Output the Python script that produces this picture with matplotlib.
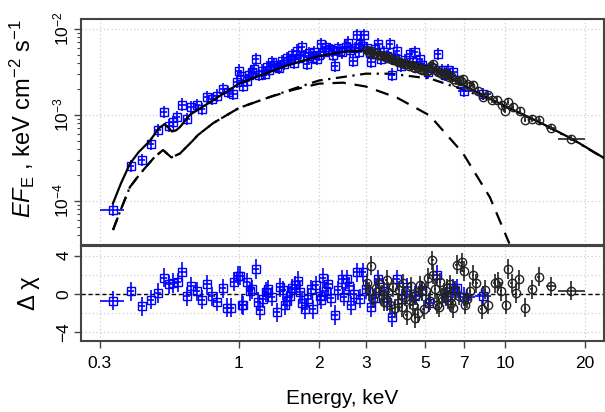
import numpy as np
import matplotlib
matplotlib.use("Agg")
import matplotlib.pyplot as plt
from matplotlib.ticker import LogLocator, FixedLocator, NullFormatter, NullLocator

plt.rcParams['font.family'] = ['Liberation Sans', 'DejaVu Sans']
plt.rcParams['mathtext.fontset'] = 'custom'
plt.rcParams['mathtext.rm'] = 'Liberation Sans'
plt.rcParams['mathtext.it'] = 'Liberation Sans:italic'

# ---- model curves (keV, keV cm^-2 s^-1) ----
total_e = [0.336, 0.36, 0.389, 0.42, 0.463, 0.498, 0.525, 0.545, 0.56, 0.58, 0.60, 0.654, 0.798,
           1.0, 1.5, 2.0, 2.5, 3.0, 3.92, 5.22, 7.0, 8.8, 10.1, 13.5, 18.0, 23.8]
total_f = [9.4e-5, 1.6e-4, 2.7e-4, 3.7e-4, 5.0e-4, 6.9e-4, 7.8e-4, 7.0e-4, 6.4e-4, 6.6e-4, 7.2e-4,
           1.0e-3, 1.47e-3, 2.3e-3, 3.7e-3, 4.8e-3, 5.4e-3, 5.56e-3, 4.46e-3, 3.56e-3, 2.2e-3,
           1.53e-3, 1.25e-3, 8.2e-4, 5.2e-4, 3.1e-4]

bb_e = [0.336, 0.36, 0.389, 0.425, 0.48, 0.518, 0.557, 0.60, 0.67, 0.70, 0.80, 1.0, 1.3, 1.6, 2.0,
        2.46, 3.0, 3.93, 5.22, 6.95, 8.79, 10.4]
bb_f = [4.6e-5, 8.0e-5, 1.45e-4, 2.07e-4, 3.2e-4, 3.9e-4, 3.2e-4, 3.55e-4, 5.0e-4, 5.8e-4, 8.0e-4,
        1.2e-3, 1.6e-3, 1.95e-3, 2.3e-3, 2.36e-3, 2.13e-3, 1.58e-3, 9.8e-4, 3.6e-4, 1.1e-4, 3.2e-5]

comp_e = [0.336, 0.36, 0.389, 0.425, 0.48, 0.518, 0.557, 0.60, 0.67, 0.70, 0.80, 1.0, 1.3, 1.6, 2.0,
          3.0, 3.7, 5.22, 6.78, 8.8, 10.1, 13.5, 18.0, 23.8]
comp_f = [4.6e-5, 8.0e-5, 1.45e-4, 2.07e-4, 3.2e-4, 3.9e-4, 3.2e-4, 3.55e-4, 5.0e-4, 5.8e-4, 8.0e-4,
          1.2e-3, 1.6e-3, 2.0e-3, 2.5e-3, 3.0e-3, 3.0e-3, 2.64e-3, 2.02e-3, 1.5e-3, 1.23e-3, 8.1e-4,
          5.15e-4, 3.08e-4]

# ---- soft band data (blue squares) ----
blue_e = [0.337, 0.392, 0.431, 0.466, 0.496, 0.522, 0.546, 0.566, 0.584, 0.612, 0.636, 0.663, 0.693,
          0.724, 0.756, 0.79, 0.824, 0.873, 0.912, 0.952, 0.98, 1.0, 1.02, 1.04, 1.07, 1.09, 1.12,
          1.14, 1.16, 1.19, 1.22, 1.25, 1.27, 1.30, 1.33, 1.36, 1.39, 1.42, 1.45, 1.48, 1.51, 1.55,
          1.58, 1.61, 1.65, 1.68, 1.72, 1.76, 1.80, 1.84, 1.88, 1.92, 1.96, 2.0, 2.04, 2.08, 2.13,
          2.18, 2.23, 2.26, 2.29, 2.35, 2.40, 2.45, 2.52, 2.57, 2.62, 2.69, 2.73, 2.77, 2.82, 2.85,
          2.90, 2.96, 3.02, 3.1, 3.15, 3.25, 3.34, 3.43, 3.5, 3.6, 3.69, 3.75, 3.85, 3.92, 4.08,
          4.2, 4.39, 4.5, 4.58, 4.79, 4.9, 5.14, 5.3, 5.6, 5.8, 5.94, 6.1, 6.4, 7.05, 8.27]
blue_f = [7.9e-5, 2.54e-4, 3.0e-4, 4.6e-4, 6.6e-4, 1.07e-3, 7.5e-4, 8.2e-4, 9.4e-4, 1.31e-3, 9.0e-4,
          1.22e-3, 1.3e-3, 1.17e-3, 1.6e-3, 1.53e-3, 1.67e-3, 2.0e-3, 1.83e-3, 1.75e-3, 2.39e-3,
          3.26e-3, 2.8e-3, 2.18e-3, 2.5e-3, 2.9e-3, 3.1e-3, 3.4e-3, 4.46e-3, 2.9e-3, 3.26e-3, 3.0e-3,
          3.56e-3, 3.3e-3, 4.07e-3, 3.8e-3, 3.56e-3, 3.5e-3, 4.2e-3, 3.9e-3, 4.6e-3, 4.3e-3, 4.9e-3,
          4.0e-3, 5.56e-3, 4.6e-3, 6.1e-3, 4.8e-3, 3.9e-3, 5.2e-3, 4.6e-3, 5.4e-3, 4.5e-3, 5.0e-3,
          6.65e-3, 5.3e-3, 6.1e-3, 5.8e-3, 5.6e-3, 5.0e-3, 3.7e-3, 6.0e-3, 5.56e-3, 5.3e-3, 6.2e-3,
          6.9e-3, 5.6e-3, 4.2e-3, 6.0e-3, 8.5e-3, 5.4e-3, 6.6e-3, 6.3e-3, 8.5e-3, 6.0e-3, 5.2e-3,
          4.07e-3, 5.8e-3, 6.6e-3, 4.5e-3, 5.3e-3, 4.8e-3, 6.6e-3, 2.93e-3, 4.6e-3, 5.56e-3, 3.7e-3,
          4.3e-3, 5.1e-3, 4.1e-3, 5.3e-3, 4.5e-3, 3.8e-3, 3.1e-3, 3.5e-3, 5.1e-3, 3.3e-3, 2.93e-3,
          3.3e-3, 3.1e-3, 1.91e-3, 1.75e-3]
blue_frac_err = 0.18
blue_wide_bins = {0.337: (0.30, 0.37), 7.05: (6.67, 7.7), 8.27: (7.7, 8.9)}

blue_res_e = [0.337, 0.392, 0.431, 0.466, 0.496, 0.522, 0.546, 0.566, 0.59, 0.612, 0.636, 0.663,
              0.693, 0.724, 0.76, 0.79, 0.83, 0.87, 0.90, 0.93, 0.96, 0.99, 1.01, 1.03, 1.04, 1.07,
              1.10, 1.12, 1.16, 1.18, 1.20, 1.23, 1.26, 1.29, 1.33, 1.39, 1.43, 1.46, 1.49, 1.52,
              1.55, 1.59, 1.62, 1.67, 1.70, 1.73, 1.77, 1.82, 1.86, 1.90, 1.95, 2.01, 2.04, 2.07,
              2.12, 2.17, 2.22, 2.29, 2.35, 2.44, 2.48, 2.54, 2.6, 2.65, 2.7, 2.77, 2.85, 2.93, 3.0,
              3.15, 3.25, 3.34, 3.5, 3.6, 3.75, 3.92, 4.1, 4.3, 4.6, 4.9, 5.2, 5.54, 6.0, 6.37,
              6.58, 7.05, 8.27]
blue_res = [-0.7, 0.27, -1.3, -0.6, 0.1, 1.7, 1.0, 1.15, 1.2, 2.3, -0.25, 0.8, 0.3, -0.6, 1.0, -0.25,
            -0.8, 0.6, -1.45, -1.45, 1.3, 1.9, 1.9, -1.1, -1.2, 1.2, 0.3, 0.5, 2.6, -0.8, -1.7, -0.5,
            0.2, 0.5, -0.3, -1.9, 0.7, 0.4, -1.2, -0.7, -0.2, 0.6, 0.9, 1.4, 0.2, -0.9, -1.6, -0.5,
            0.5, -1.6, 0.9, -0.2, -0.6, 1.7, 0.3, 1.0, -0.4, -2.2, 0.4, 1.55, -0.3, 1.55, 0.8, -1.2,
            0.0, 2.25, -0.5, 2.25, 0.5, -1.4, -0.4, 1.55, 0.3, -0.8, -2.4, 1.55, -0.5, 0.7, -0.2,
            0.4, -0.9, 2.0, -0.3, 0.6, 0.6, -0.3, -0.2]

# ---- hard band data (black circles) ----
black_e = [3.02, 3.08, 3.13, 3.2, 3.26, 3.32, 3.39, 3.45, 3.52, 3.59, 3.66, 3.73, 3.80, 3.88, 3.95,
           4.03, 4.11, 4.19, 4.27, 4.35, 4.43, 4.52, 4.61, 4.70, 4.79, 4.88, 4.98, 5.08, 5.18, 5.28,
           5.38, 5.49, 5.59, 5.70, 5.82, 5.93, 6.04, 6.16, 6.28, 6.40, 6.57, 6.70, 6.85, 6.97, 7.2,
           7.4, 7.6, 7.92, 8.27, 8.62, 8.98, 9.37, 9.75, 9.98, 10.3, 10.7, 11.4, 11.9, 12.6, 13.5,
           14.9, 17.7]
black_f = [5.6e-3, 5.4e-3, 5.5e-3, 5.1e-3, 5.2e-3, 4.9e-3, 5.0e-3, 4.8e-3, 4.75e-3, 4.6e-3, 4.65e-3,
           4.4e-3, 4.35e-3, 4.3e-3, 4.1e-3, 4.05e-3, 4.0e-3, 3.85e-3, 3.9e-3, 3.7e-3, 3.75e-3, 3.6e-3,
           3.5e-3, 3.55e-3, 3.4e-3, 3.35e-3, 3.3e-3, 3.2e-3, 3.35e-3, 3.7e-3, 3.9e-3, 3.3e-3, 3.15e-3,
           3.1e-3, 3.0e-3, 3.05e-3, 2.95e-3, 2.75e-3, 2.8e-3, 2.6e-3, 2.4e-3, 2.55e-3, 2.45e-3,
           2.6e-3, 2.3e-3, 2.15e-3, 2.2e-3, 1.9e-3, 1.6e-3, 1.7e-3, 1.5e-3, 1.48e-3, 1.3e-3, 1.12e-3,
           1.4e-3, 1.22e-3, 1.12e-3, 8.8e-4, 9.0e-4, 8.8e-4, 7.1e-4, 5.3e-4]
black_frac_err = 0.08
black_wide_bins = {14.9: (14.3, 15.6), 17.7: (15.8, 20.0)}

black_res_e = [3.02, 3.08, 3.14, 3.2, 3.29, 3.35, 3.44, 3.5, 3.59, 3.65, 3.7, 3.8, 3.86, 3.97, 4.0,
               4.1, 4.15, 4.2, 4.27, 4.39, 4.45, 4.5, 4.58, 4.65, 4.72, 4.8, 4.86, 4.95, 5.05, 5.16,
               5.25, 5.34, 5.38, 5.45, 5.54, 5.65, 5.7, 5.78, 5.9, 6.04, 6.1, 6.2, 6.3, 6.40, 6.5,
               6.58, 6.75, 6.91, 7.00, 7.10, 7.2, 7.38, 7.60, 7.82, 8.17, 8.41, 8.65, 9.15, 9.42,
               9.70, 10.1, 10.3, 10.6, 11.0, 11.3, 11.9, 12.6, 13.4, 14.9, 17.7]
black_res = [1.1, 0.3, 2.95, -0.5, 0.6, 1.0, -0.1, -0.8, 1.5, 0.2, -1.2, 0.7, -1.5, -0.9, 0.4, -1.4,
             1.1, -0.3, -2.2, -0.6, 0.8, -1.2, -2.5, -0.1, -2.0, 0.9, 0.3, -1.6, 0.3, 1.7, -0.7, 3.5,
             2.0, 0.5, -1.1, -1.4, 1.2, -0.4, 0.1, 0.6, -0.6, 1.0, -0.9, -1.5, 0.4, 3.05, -0.2, 3.3,
             2.4, -1.1, -0.5, 0.3, 2.0, 1.1, -1.6, 0.45, -1.1, 1.1, 1.3, 0.3, -1.1, 2.6, 1.1, 0.1,
             1.55, -1.45, 0.5, 1.8, 0.8, 0.35]

xticks = [0.3, 1, 2, 3, 5, 7, 10, 20]
xtick_labels = ['0.3', '1', '2', '3', '5', '7', '10', '20']


def xerrs(energies, wide_bins, frac=0.03):
    lo, hi = [], []
    for e in energies:
        if e in wide_bins:
            a, b = wide_bins[e]
        else:
            a, b = e * (1 - frac), e * (1 + frac)
        lo.append(e - a)
        hi.append(b - e)
    return [lo, hi]


frame_col = '#444444'
grid_col = '#cfcfcf'
blue_style = dict(fmt='s', ms=6, mfc='none', mec='blue', mew=1.0, ecolor='blue', elinewidth=1.2,
                  capsize=0)
black_style = dict(fmt='o', ms=6, mfc='none', mec='#222222', mew=1.0, ecolor='#222222',
                   elinewidth=1.2, capsize=0)

fig = plt.figure(figsize=(6.05, 4.12), dpi=100)
ax1 = fig.add_axes([81 / 605, 1 - 245 / 412, 523 / 605, 226 / 412])
ax2 = fig.add_axes([81 / 605, 1 - 341 / 412, 523 / 605, 95 / 412])

# upper panel: models
ax1.plot(total_e, total_f, color='black', lw=1.6, zorder=4)
ax1.plot(bb_e, bb_f, color='black', lw=1.6, dashes=(6, 4), zorder=2)
ax1.plot(comp_e, comp_f, color='black', lw=1.6, dashes=(5, 2.5, 1, 2.5), zorder=2)

bf = np.array(blue_f)
ax1.errorbar(blue_e, blue_f, xerr=xerrs(blue_e, blue_wide_bins),
             yerr=[bf - bf / (1 + blue_frac_err), bf * blue_frac_err], zorder=3, **blue_style)
kf = np.array(black_f)
ax1.errorbar(black_e, black_f, xerr=xerrs(black_e, black_wide_bins, 0.01),
             yerr=[kf - kf / (1 + black_frac_err), kf * black_frac_err], zorder=5, **black_style)

# lower panel: residuals
ax2.axhline(0, color='black', lw=1, dashes=(3, 2), zorder=1)
ax2.errorbar(blue_res_e, blue_res, xerr=xerrs(blue_res_e, blue_wide_bins), yerr=1,
             zorder=3, **blue_style)
ax2.errorbar(black_res_e, black_res, xerr=xerrs(black_res_e, black_wide_bins, 0.01), yerr=1,
             zorder=4, **black_style)

for ax in (ax1, ax2):
    ax.set_xscale('log')
    ax.set_xlim(0.2547, 23.6)
    ax.xaxis.set_major_locator(FixedLocator(xticks))
    ax.xaxis.set_minor_locator(NullLocator())
    ax.grid(True, which='major', color=grid_col, ls=(0, (1, 2)), lw=0.9)
    for s in ax.spines.values():
        s.set_color(frame_col)
        s.set_linewidth(1.5)
    ax.set_axisbelow(True)

ax1.set_yscale('log')
ax1.set_ylim(3.08e-5, 1.294e-2)
ax1.yaxis.set_major_locator(LogLocator(base=10))
ax1.yaxis.set_minor_locator(LogLocator(base=10, subs=np.arange(2, 10)))
ax1.yaxis.set_minor_formatter(NullFormatter())
ax1.tick_params(axis='x', bottom=False, labelbottom=False)
ax1.tick_params(axis='y', which='major', length=5, width=1, color=frame_col, labelsize=12.5, pad=2)
ax1.tick_params(axis='y', which='minor', length=3, width=0.8, color=frame_col)
for lab in ax1.get_yticklabels():
    lab.set_rotation(90)
    lab.set_va('center')
ax1.set_ylabel(r'$EF_{\mathrm{E}}$ , keV cm$^{-2}$ s$^{-1}$', fontsize=17, labelpad=10)
ax1.yaxis.label.set_y(0.56)

ax2.set_ylim(-4.9, 5.0)
ax2.yaxis.set_major_locator(FixedLocator([-4, 0, 4]))
ax2.yaxis.set_minor_locator(FixedLocator([-2, 2]))
ax2.grid(True, which='minor', axis='y', color=grid_col, ls=(0, (1, 2)), lw=0.9)
ax2.set_yticklabels(['\u22124', '0', '4'])
ax2.tick_params(axis='y', which='major', length=5, width=1, color=frame_col, labelsize=12.5, pad=2)
ax2.tick_params(axis='y', which='minor', length=0)
for lab in ax2.get_yticklabels():
    lab.set_rotation(90)
    lab.set_va('center')
ax2.set_xticklabels(xtick_labels)
ax2.tick_params(axis='x', length=5, width=1, color=frame_col, labelsize=12.5, pad=6)
ax2.set_ylabel('\u0394 \u03c7', fontsize=17, labelpad=12)
ax2.set_xlabel('Energy, keV', fontsize=15, labelpad=13)

fig.savefig('out.png', dpi=100)
